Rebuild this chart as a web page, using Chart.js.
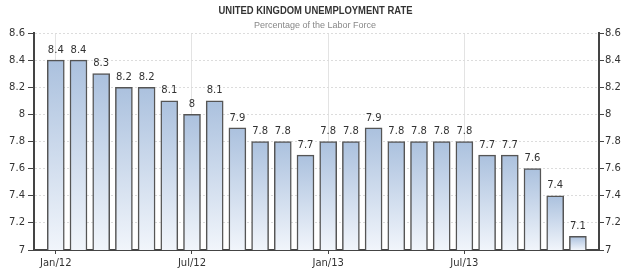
<!DOCTYPE html>
<html><head><meta charset="utf-8">
<script src="https://cdn.jsdelivr.net/npm/chart.js@4/dist/chart.umd.min.js"></script>
<style>html,body{margin:0;padding:0;background:#fff}#wrap{width:640px;height:275px}</style>
</head><body><div id="wrap"><canvas id="c" width="640" height="275"></canvas></div>
<script>
const titleText = 'UNITED KINGDOM UNEMPLOYMENT RATE';
const subtitleText = 'Percentage of the Labor Force';
const months = ['Jan/12','Feb/12','Mar/12','Apr/12','May/12','Jun/12','Jul/12','Aug/12','Sep/12','Oct/12','Nov/12','Dec/12',
                'Jan/13','Feb/13','Mar/13','Apr/13','May/13','Jun/13','Jul/13','Aug/13','Sep/13','Oct/13','Nov/13','Dec/13'];
const rates = [8.4,8.4,8.3,8.2,8.2,8.1,8,8.1,7.9,7.8,7.8,7.7,7.8,7.8,7.9,7.8,7.8,7.8,7.8,7.7,7.7,7.6,7.4,7.1];
const tickMonths = ['Jan/12','Jul/12','Jan/13','Jul/13'];
const yTicks = [7,7.2,7.4,7.6,7.8,8,8.2,8.4,8.6];

const FONT = 'DejaVu Sans';
const TFONT = 'Liberation Sans';
const fmt = v => String(+Number(v).toFixed(1));

const labelPlugin = {
  id: 'labels',
  afterDatasetsDraw(chart) {
    const ctx = chart.ctx;
    const meta = chart.getDatasetMeta(0);
    ctx.save();
    ctx.font = '10px "' + FONT + '"';
    ctx.fillStyle = '#333';
    ctx.textAlign = 'center';
    ctx.textBaseline = 'middle';
    meta.data.forEach((el, i) => {
      ctx.fillText(fmt(rates[i]), el.x, el.y - 10);
    });
    ctx.restore();
  },
  afterDraw(chart) {
    const ctx = chart.ctx;
    ctx.save();
    ctx.textAlign = 'center';
    ctx.textBaseline = 'middle';
    ctx.fillStyle = '#333';
    ctx.font = 'bold 10px "DejaVu Sans Condensed", "' + FONT + '"';
    let w = ctx.measureText(titleText).width;
    if (w > 200) { ctx.font = 'bold 10px "' + TFONT + '"'; w = ctx.measureText(titleText).width; }
    ctx.fillText(titleText, 315.5, 11, 194);
    ctx.fillStyle = '#888';
    ctx.font = '9px "' + TFONT + '"';
    ctx.fillText(subtitleText, 315, 26);
    ctx.restore();
  }
};

const yTickCfg = {
  font: { family: FONT, size: 10 },
  color: '#333',
  callback: v => fmt(v)
};

new Chart(document.getElementById('c'), {
  type: 'bar',
  data: {
    datasets: [{
      data: rates.map((v, i) => ({ x: i, y: v })),
      yAxisID: 'y',
      barThickness: 17,
      borderWidth: 1.5,
      borderColor: '#555',
      borderSkipped: false,
      backgroundColor: (c) => {
        const chart = c.chart;
        const area = chart.chartArea;
        if (!area || !c.raw) return '#b8cbe4';
        const top = chart.scales.y.getPixelForValue(c.raw.y);
        const g = chart.ctx.createLinearGradient(0, top, 0, area.bottom);
        g.addColorStop(0, '#abc1de');
        g.addColorStop(1, '#f1f5fb');
        return g;
      }
    }]
  },
  options: {
    responsive: false,
    animation: false,
    layout: { padding: { top: 33, left: 0, right: 0, bottom: 0 } },
    plugins: { legend: { display: false }, tooltip: { enabled: false } },
    scales: {
      x: {
        type: 'linear',
        offset: false,
        min: -0.96,
        max: 23.93,
        afterBuildTicks: s => { s.ticks = tickMonths.map(m => ({ value: months.indexOf(m) })); },
        afterFit: s => { s.height = 25; },
        ticks: {
          font: { family: FONT, size: 10 },
          color: '#333',
          padding: 3,
          maxRotation: 0,
          autoSkip: false,
          callback: v => months[v]
        },
        grid: { color: '#e3e3e3', tickColor: '#444', tickLength: 4, offset: false },
        border: { color: '#444', width: 2 }
      },
      y: {
        position: 'left',
        min: 7, max: 8.6,
        afterBuildTicks: s => { s.ticks = yTicks.map(v => ({ value: v })); },
        afterFit: s => { s.width = 34; },
        ticks: Object.assign({ padding: 3 }, yTickCfg),
        grid: { color: '#dcdcdc', tickColor: '#444', tickLength: 6, drawOnChartArea: true },
        border: { color: '#444', width: 2, dash: [2, 2] }
      },
      y2: {
        position: 'right',
        min: 7, max: 8.6,
        afterBuildTicks: s => { s.ticks = yTicks.map(v => ({ value: v })); },
        afterFit: s => { s.width = 41; },
        ticks: Object.assign({ padding: 1 }, yTickCfg),
        grid: { drawOnChartArea: false, tickColor: '#444', tickLength: 5 },
        border: { color: '#444', width: 2 }
      }
    }
  },
  plugins: [labelPlugin]
});
</script>
</body></html>
